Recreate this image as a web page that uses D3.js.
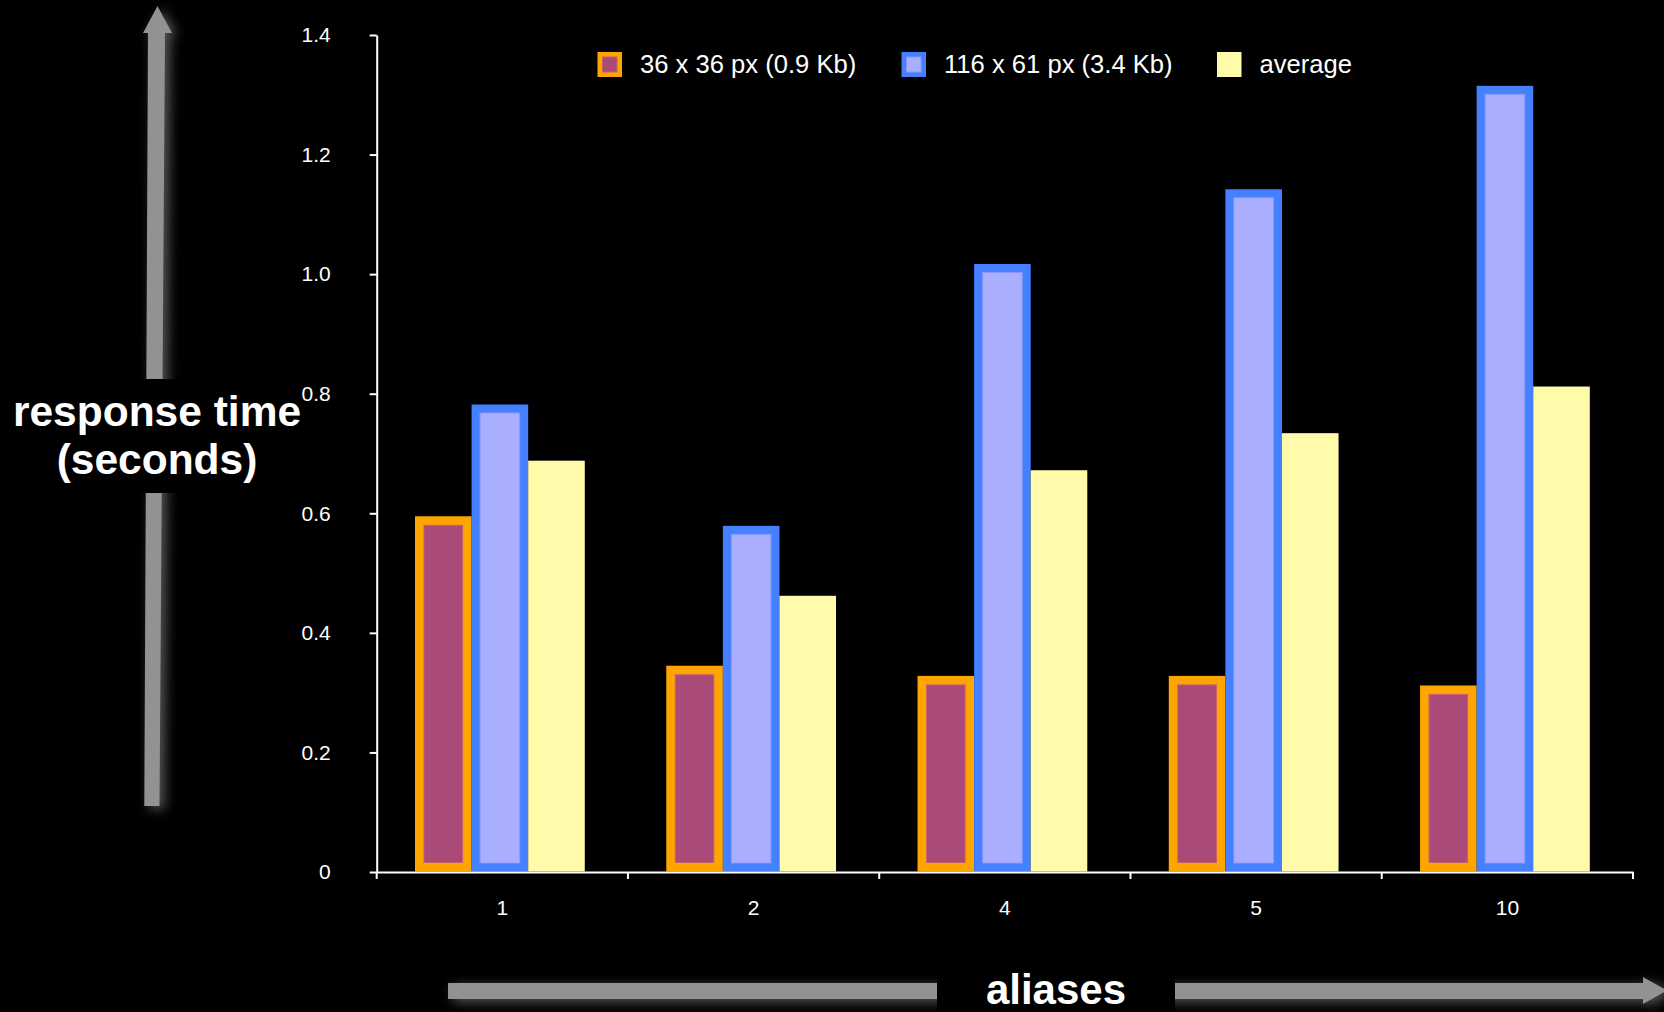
<!DOCTYPE html>
<html><head><meta charset="utf-8">
<script src="https://cdn.jsdelivr.net/npm/d3@7"></script>
<style>html,body{margin:0;padding:0;background:#000;}svg{display:block;}</style>
</head><body>
<svg id="chart" width="1664" height="1012"></svg>
<script>
// ---- data ----
const categories = ["1", "2", "4", "5", "10"];
const seriesNames = ["36 x 36 px (0.9 Kb)", "116 x 61 px (3.4 Kb)", "average"];
const smallIcon = [0.595, 0.345, 0.328, 0.328, 0.312];
const largeIcon = [0.782, 0.579, 1.017, 1.142, 1.315];
const averageValues = [0.688, 0.462, 0.672, 0.734, 0.812];
const yTickValues = [0, 0.2, 0.4, 0.6, 0.8, 1.0, 1.2, 1.4];
const yTickLabels = ["0", "0.2", "0.4", "0.6", "0.8", "1.0", "1.2", "1.4"];
const yTitleLines = ["response time", "(seconds)"];
const xTitle = "aliases";

// ---- styles (kept apart from data) ----
const seriesStyle = [
  {outer: "#FFA500", inner: "#AA4A78", line: "#C8606A", border: 9},
  {outer: "#4580FF", inner: "#AAAEFF", line: "#8A98FF", border: 8.5},
  {outer: "#FFFBAA", inner: null, line: null, border: 0}
];
const seriesValues = [smallIcon, largeIcon, averageValues];

const svg = d3.select("#chart");
svg.append("rect").attr("width", 1664).attr("height", 1012).attr("fill", "#000");

const defs = svg.append("defs");
const f = defs.append("filter").attr("id", "glow").attr("x", "-50%").attr("y", "-50%").attr("width", "200%").attr("height", "200%");
f.append("feGaussianBlur").attr("in", "SourceAlpha").attr("stdDeviation", 6).attr("result", "b");
f.append("feOffset").attr("in", "b").attr("dx", 5).attr("dy", 3).attr("result", "o");
f.append("feFlood").attr("flood-color", "#9a9a9a").attr("flood-opacity", 0.55);
f.append("feComposite").attr("in2", "o").attr("operator", "in").attr("result", "s");
const fm = f.append("feMerge");
fm.append("feMergeNode").attr("in", "s");
fm.append("feMergeNode").attr("in", "SourceGraphic");

// ---- decorative axis arrows ----
const arrowColor = "#929292";
svg.append("polygon")
  .attr("points", [[144.3,806],[148,33],[143,33],[157.5,6],[172,33],[165,33],[159.5,806]].map(p => p.join(",")).join(" "))
  .attr("fill", arrowColor).attr("filter", "url(#glow)");
svg.append("polygon")
  .attr("points", [[448,983],[1643,983],[1643,977],[1667,990.5],[1643,1004],[1643,999],[448,999]].map(p => p.join(",")).join(" "))
  .attr("fill", arrowColor).attr("filter", "url(#glow)");

// title backgrounds cutting the arrows
svg.append("rect").attr("x", 0).attr("y", 379).attr("width", 305).attr("height", 114).attr("fill", "#000");
svg.append("rect").attr("x", 937).attr("y", 969).attr("width", 238).attr("height", 43).attr("fill", "#000");

// ---- scales ----
const x0 = 376.7, x1 = 1633, yBase = 872, yTop = 35;
const x = d3.scaleBand().domain(categories).range([x0, x1]).paddingInner(0).paddingOuter(0);
const xs = d3.scaleBand().domain(d3.range(seriesNames.length)).range([0, x.bandwidth()])
  .paddingInner(0).paddingOuter(0.72).align(0.47);
const y = d3.scaleLinear().domain([0, 1.4]).range([yBase, yTop]);

// ---- bars ----
const groups = svg.append("g").selectAll("g").data(categories).join("g")
  .attr("transform", d => `translate(${x(d)},0)`);

groups.each(function(cat, ci) {
  const g = d3.select(this);
  seriesValues.forEach((vals, si) => {
    const st = seriesStyle[si];
    const v = vals[ci];
    const bx = xs(si), bw = xs.bandwidth();
    const top = y(v), h = y(0) - 0.5 - top;
    g.append("rect").attr("x", bx).attr("y", top).attr("width", bw).attr("height", h).attr("fill", st.outer);
    if (st.inner) {
      const b = st.border;
      g.append("rect").attr("x", bx + b).attr("y", top + b)
        .attr("width", bw - 2 * b).attr("height", Math.max(0, h - 2 * b))
        .attr("fill", st.inner).attr("stroke", st.line).attr("stroke-width", 1);
    }
  });
});

// ---- axes ----
const tickFont = "'Liberation Sans', Arial, sans-serif";
const yAxis = svg.append("g").attr("transform", `translate(${x0},0)`)
  .call(d3.axisLeft(y).tickValues(yTickValues).tickFormat((d, i) => yTickLabels[i])
    .tickSize(7).tickSizeOuter(0).tickPadding(39));
yAxis.select(".domain").attr("stroke", "#fff").attr("stroke-width", 2);
yAxis.selectAll(".tick line").attr("stroke", "#fff").attr("stroke-width", 2);
yAxis.selectAll(".tick text").attr("fill", "#fff").style("font-family", tickFont).style("font-size", "21px");

const xAxis = svg.append("g").attr("transform", `translate(0,${yBase})`)
  .call(d3.axisBottom(x).tickSize(0).tickSizeOuter(0).tickPadding(28));
xAxis.select(".domain").attr("stroke", "#fff").attr("stroke-width", 2);
xAxis.selectAll(".tick text").attr("fill", "#fff").style("font-family", tickFont).style("font-size", "21px");
// tick marks at band edges
const edges = categories.map(c => x(c)).concat([x1]);
xAxis.selectAll(".edge").data(edges).join("line").attr("class", "edge")
  .attr("x1", d => d).attr("x2", d => d).attr("y1", 0).attr("y2", 7)
  .attr("stroke", "#fff").attr("stroke-width", 2);

// ---- legend ----
const legendX = [597.5, 901.5, 1217];
const legend = svg.append("g").selectAll("g").data(seriesNames).join("g")
  .attr("transform", (d, i) => `translate(${legendX[i]},52)`);
legend.append("rect").attr("width", 24.5).attr("height", 25).attr("fill", (d, i) => seriesStyle[i].outer);
legend.filter((d, i) => seriesStyle[i].inner).append("rect")
  .attr("x", 5).attr("y", 5).attr("width", 14.5).attr("height", 15)
  .attr("fill", d => seriesStyle[seriesNames.indexOf(d)].inner)
  .attr("stroke", d => seriesStyle[seriesNames.indexOf(d)].line).attr("stroke-width", 1);
legend.append("text").attr("x", 42.5).attr("y", 20.5).text(d => d)
  .attr("fill", "#fff").style("font-family", tickFont).style("font-size", "25.6px");

// ---- titles ----
const titleFont = "'Liberation Sans', Arial, sans-serif";
svg.append("g").selectAll("text").data(yTitleLines).join("text")
  .attr("x", 157).attr("y", (d, i) => 426 + i * 48)
  .attr("text-anchor", "middle").attr("fill", "#fff")
  .style("font-family", titleFont).style("font-weight", "bold").style("font-size", "42.5px")
  .text(d => d);
svg.append("text").attr("x", 1056).attr("y", 1004).attr("text-anchor", "middle").attr("fill", "#fff")
  .style("font-family", titleFont).style("font-weight", "bold").style("font-size", "42px")
  .text(xTitle);
</script>
</body></html>
